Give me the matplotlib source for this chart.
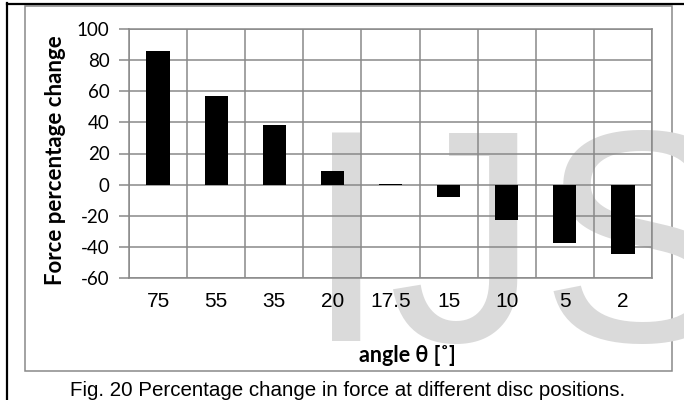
import matplotlib
matplotlib.use('Agg')
import matplotlib.pyplot as plt
from matplotlib.patches import Rectangle
from matplotlib.lines import Line2D
import numpy as np

# angle positions (x categories) and force change in percent
angles = ['75', '55', '35', '20', '17.5', '15', '10', '5', '2']
force_change = [86, 57, 38.5, 8.5, 0.7, -8, -23, -37.5, -44.5]
y_ticks = [-60, -40, -20, 0, 20, 40, 60, 80, 100]

W, H = 684, 400
grid_col = '#898989'

fig = plt.figure(figsize=(W / 100, H / 100), dpi=100)

def fx(px):
    return px / W

def fy(py):
    return 1 - py / H

# page frame (black) and chart area border (gray)
fig.add_artist(Line2D([fx(7), fx(7)], [fy(3), 0], color='black', lw=1.6))
fig.add_artist(Line2D([fx(7), 1], [fy(3.5), fy(3.5)], color='black', lw=1.6))
fig.add_artist(Rectangle((fx(25), fy(371)), fx(672) - fx(25), fy(6) - fy(371),
                         fill=False, edgecolor=grid_col, lw=1.1, zorder=-2))

# watermark
fig.text(fx(304), fy(341), 'IJSER', fontsize=218, color='#dadada',
         family='Liberation Sans', ha='left', va='baseline', zorder=-1)

ax = fig.add_axes([fx(129), fy(278), fx(652) - fx(129), fy(29) - fy(278)])
ax.set_facecolor('none')

x = np.arange(len(angles))
ax.bar(x, force_change, width=0.4, color='black', zorder=3)

ax.set_xlim(-0.5, len(angles) - 0.5)
ax.set_ylim(-60, 100)

ax.set_yticks(y_ticks, [str(v) for v in y_ticks], fontfamily='Lato', fontsize=13.5)
ax.set_xticks(x, angles, fontfamily='Liberation Sans', fontsize=15)
ax.set_xticks(np.arange(-0.5, len(angles), 1), minor=True)

ax.tick_params(axis='y', which='major', length=7, width=1.1, color=grid_col,
               pad=7, direction='out')
ax.tick_params(axis='x', which='both', length=0, pad=10)
ax.grid(True, axis='y', which='major', color=grid_col, lw=1.1, zorder=0)
ax.grid(True, axis='x', which='minor', color=grid_col, lw=1.1, zorder=0)
ax.set_axisbelow(True)
for s in ax.spines.values():
    s.set_color(grid_col)
    s.set_linewidth(1.1)

fig.text(fx(56), fy(160), 'Force percentage change', rotation=90,
         ha='center', va='center', fontsize=16, fontweight='bold',
         family='Lato')
fig.text(fx(407), fy(356), 'angle θ [˚]', ha='center', va='center',
         fontsize=15.5, fontweight='bold', family=['Lato', 'Liberation Serif'])

fig.text(fx(348), fy(390), 'Fig. 20 Percentage change in force at different disc positions.',
         ha='center', va='center', fontsize=14.8, family='Liberation Sans')

fig.savefig('out.png', dpi=100)
